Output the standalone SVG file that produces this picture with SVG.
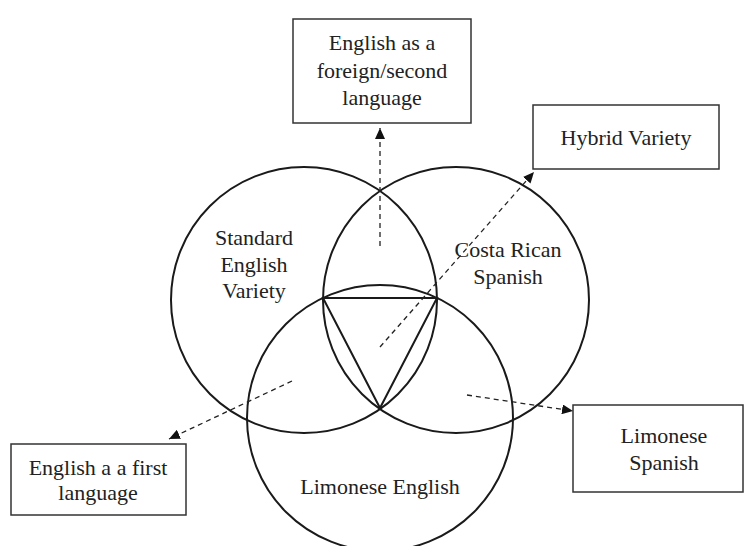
<svg xmlns="http://www.w3.org/2000/svg" width="745" height="546" viewBox="0 0 745 546">
<style>
.c{fill:none;stroke:#1a1a1a;stroke-width:2}
.b{fill:#fff;stroke:#333;stroke-width:1.5}
.t{font-family:'Liberation Serif',serif;font-size:22px;fill:#222;text-anchor:middle}
.d{fill:none;stroke:#222;stroke-width:1.3;stroke-dasharray:5 4;marker-end:url(#ah)}
</style>
<defs>
<marker id="ah" markerUnits="userSpaceOnUse" markerWidth="12" markerHeight="10" refX="11" refY="5" orient="auto">
<path d="M0,0 L11,5 L0,10 Z" fill="#111"/>
</marker>
</defs>
<rect width="745" height="546" fill="#fff"/>
<g id="circle-standard"><circle class="c" cx="304" cy="300" r="133"/><text class="t" font-family="Liberation Serif" x="254" y="245">Standard</text><text class="t" font-family="Liberation Serif" x="254" y="272">English</text><text class="t" font-family="Liberation Serif" x="254" y="298">Variety</text></g>
<g id="circle-costa"><circle class="c" cx="456" cy="300" r="133"/><text class="t" font-family="Liberation Serif" x="508" y="257">Costa Rican</text><text class="t" font-family="Liberation Serif" x="508" y="284">Spanish</text></g>
<g id="circle-limonese"><circle class="c" cx="380" cy="418" r="133"/><text class="t" font-family="Liberation Serif" x="380" y="494">Limonese English</text></g>
<g id="triangle"><polygon class="c" points="323,298 437,298 380,408"/></g>
<g id="box-foreign"><rect class="b" x="293" y="19" width="178" height="104"/><text class="t" font-family="Liberation Serif" x="382" y="50">English as a</text><text class="t" font-family="Liberation Serif" x="382" y="78">foreign/second</text><text class="t" font-family="Liberation Serif" x="382" y="105">language</text></g>
<g id="box-hybrid"><rect class="b" x="533" y="105" width="186" height="64"/><text class="t" font-family="Liberation Serif" x="626" y="145">Hybrid Variety</text></g>
<g id="box-first"><rect class="b" x="11" y="444" width="175" height="71"/><text class="t" font-family="Liberation Serif" x="98" y="475">English a a first</text><text class="t" font-family="Liberation Serif" x="98" y="500">language</text></g>
<g id="box-limspanish"><rect class="b" x="573" y="405" width="170" height="87"/><text class="t" font-family="Liberation Serif" x="664" y="443">Limonese</text><text class="t" font-family="Liberation Serif" x="664" y="470">Spanish</text></g>
<g id="connectors">
<line class="d" x1="380" y1="246" x2="380" y2="128"/>
<line class="d" x1="380" y1="347" x2="534" y2="172"/>
<line class="d" x1="292" y1="381" x2="169" y2="439"/>
<line class="d" x1="467" y1="395" x2="573" y2="411"/>
</g>
</svg>
